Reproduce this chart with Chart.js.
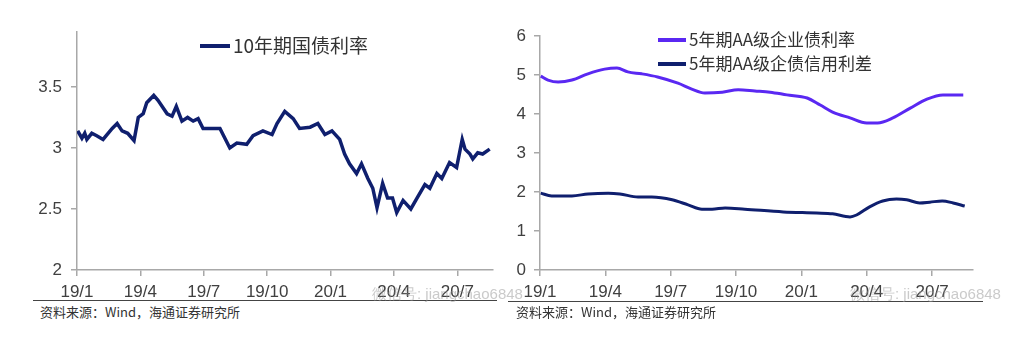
<!DOCTYPE html>
<html>
<head>
<meta charset="utf-8">
<script src="https://cdn.jsdelivr.net/npm/chart.js@4.4.1/dist/chart.umd.min.js"></script>
<style>
  body { margin: 0; background: #fff; }
  #wrap { position: relative; width: 1012px; height: 337px; overflow: hidden; font-family: 'Noto Sans CJK SC', sans-serif; }
  canvas { position: absolute; top: 0; }
  .rule { position: absolute; height: 1px; background: #444; }
  .src { position: absolute; top: 302px; font-size: 13px; color: #333; }
  .wm { position: absolute; top: 285px; font-size: 15px; color: rgba(150,150,150,0.5); font-family: 'Liberation Sans', sans-serif; }
</style>
</head>
<body>
<div id="wrap">
  <canvas id="left" width="500" height="300" style="left:0"></canvas>
  <canvas id="right" width="512" height="300" style="left:500px"></canvas>
  <div class="rule" style="left:33px;top:300px;width:464px"></div>
  <div class="rule" style="left:508px;top:301px;width:475px"></div>
  <div class="src" style="left:40px">资料来源：Wind，海通证券研究所</div>
  <div class="src" style="left:516px">资料来源：Wind，海通证券研究所</div>
  <div class="wm" style="left:372px">微信号: jiangchao6848</div>
  <div class="wm" style="left:850px">微信号: jiangchao6848</div>
</div>
<script>
// 10年期国债利率（%）
const bondDates = ['2019-01-02','2019-01-08','2019-01-12','2019-01-15','2019-01-22','2019-01-29','2019-02-08','2019-02-21',
  '2019-02-28','2019-03-05','2019-03-13','2019-03-22','2019-03-28','2019-04-05','2019-04-10','2019-04-20','2019-04-26',
  '2019-05-09','2019-05-16','2019-05-22','2019-05-30','2019-06-08','2019-06-16','2019-06-23','2019-06-30','2019-07-13',
  '2019-07-24','2019-08-01','2019-08-08','2019-08-18','2019-09-02','2019-09-11','2019-09-25','2019-10-08','2019-10-15',
  '2019-10-26','2019-11-08','2019-11-17','2019-12-02','2019-12-13','2019-12-23','2020-01-03','2020-01-14','2020-01-21',
  '2020-01-28','2020-02-08','2020-02-15','2020-02-24','2020-03-01','2020-03-07','2020-03-15','2020-03-22','2020-03-29',
  '2020-04-05','2020-04-14','2020-04-25','2020-05-04','2020-05-15','2020-05-22','2020-06-02','2020-06-09','2020-06-20',
  '2020-06-30','2020-07-08','2020-07-12','2020-07-19','2020-07-23','2020-07-30','2020-08-07','2020-08-17'];
const bondYield = [3.14,3.08,3.12,3.07,3.12,3.10,3.07,3.16,
  3.20,3.14,3.12,3.06,3.25,3.28,3.37,3.43,3.39,
  3.28,3.26,3.34,3.22,3.25,3.22,3.24,3.16,3.16,
  3.16,3.08,3.00,3.04,3.03,3.10,3.14,3.11,3.20,
  3.30,3.24,3.16,3.17,3.20,3.11,3.14,3.07,2.95,
  2.87,2.79,2.87,2.75,2.67,2.51,2.71,2.59,2.59,
  2.47,2.57,2.50,2.59,2.70,2.67,2.79,2.75,2.88,
  2.84,3.07,2.99,2.95,2.91,2.96,2.95,2.99];

// 5年期AA级企业债利率（%）
const aaDates = ['2019-01-02','2019-01-12','2019-01-26','2019-02-15','2019-03-07','2019-03-30','2019-04-17','2019-05-02',
  '2019-05-21','2019-06-13','2019-07-11','2019-07-30','2019-08-18','2019-09-12','2019-10-04','2019-10-27','2019-11-18',
  '2019-12-11','2020-01-09','2020-01-27','2020-02-14','2020-03-08','2020-04-01','2020-04-16','2020-05-07','2020-05-31',
  '2020-06-24','2020-07-16','2020-08-14'];
const aaYield = [4.97,4.87,4.82,4.87,5.03,5.15,5.18,5.08,
  5.03,4.95,4.79,4.64,4.54,4.56,4.62,4.59,4.56,
  4.49,4.41,4.23,4.05,3.90,3.77,3.77,3.90,4.15,
  4.38,4.49,4.49];

// 5年期AA级企债信用利差（%）
const spreadDates = ['2019-01-02','2019-01-17','2019-02-15','2019-03-07','2019-04-05','2019-04-21','2019-05-16','2019-06-05',
  '2019-07-03','2019-07-25','2019-08-14','2019-08-28','2019-09-16','2019-10-13','2019-12-06','2020-01-22','2020-02-14',
  '2020-03-08','2020-03-17','2020-04-05','2020-04-23','2020-05-12','2020-05-26','2020-06-14','2020-06-28','2020-07-15',
  '2020-07-30','2020-08-16'];
const aaSpread = [1.97,1.90,1.90,1.95,1.97,1.95,1.87,1.87,
  1.80,1.67,1.56,1.56,1.59,1.56,1.49,1.46,1.44,
  1.36,1.41,1.62,1.77,1.82,1.80,1.72,1.74,1.77,
  1.72,1.64];

const quarterLabels = ['19/1','19/4','19/7','19/10','20/1','20/4','20/7'];

const navy = '#0f1f6e';
const violet = '#5a28f2';
const axisGrey = '#a8a8a8';

Chart.defaults.font.family = "'Liberation Sans Narrow', 'Arial Narrow', 'Liberation Sans', Arial, sans-serif";
Chart.defaults.color = '#404040';

// 月份偏移（以2019年1月为0）
function monthsFrom2019(d) {
  const [y, m, day] = d.split('-').map(Number);
  return (y - 2019) * 12 + (m - 1) + (day - 1) / 30;
}
const toPoints = (dates, vals) => dates.map((d, i) => ({ x: monthsFrom2019(d), y: vals[i] }));

// 图例画在绘图区内
const innerLegend = {
  id: 'innerLegend',
  afterDraw(chart, args, opts) {
    const ctx = chart.ctx;
    ctx.save();
    ctx.font = opts.font;
    ctx.textBaseline = 'middle';
    chart.data.datasets.forEach((ds, i) => {
      const y = opts.y + i * opts.gap;
      ctx.strokeStyle = ds.borderColor;
      ctx.lineWidth = 4;
      ctx.beginPath();
      ctx.moveTo(opts.x, y);
      ctx.lineTo(opts.x + opts.len, y);
      ctx.stroke();
      ctx.fillStyle = '#333';
      ctx.fillText(ds.label, opts.x + opts.len + 3, y);
    });
    ctx.restore();
  }
};

function xScale(max) {
  return {
    type: 'linear', min: 0, max: max,
    afterBuildTicks: s => { s.ticks = quarterLabels.map((_, i) => ({ value: i * 3 })); },
    afterFit: s => { s.height = 30; },
    border: { color: axisGrey, width: 1.5 },
    grid: { drawOnChartArea: false, color: axisGrey, lineWidth: 1.5, tickLength: 6 },
    ticks: { padding: 6, maxRotation: 0, autoSkip: false, font: { size: 17 },
      callback: v => quarterLabels[Math.round(v / 3)] }
  };
}

function yScale(min, max, step, width, pad) {
  return {
    min: min, max: max,
    afterBuildTicks: s => { s.ticks = s.ticks.filter(t => Math.abs(t.value / step - Math.round(t.value / step)) < 1e-6); },
    afterFit: s => { s.width = width; },
    border: { color: axisGrey, width: 1.5 },
    grid: { drawOnChartArea: false, color: axisGrey, lineWidth: 1.5, tickLength: 6 },
    ticks: { stepSize: step, padding: pad, font: { size: 17 }, callback: v => String(+v.toFixed(2)) }
  };
}

new Chart(document.getElementById('left'), {
  type: 'line',
  data: {
    datasets: [{
      label: '10年期国债利率',
      data: toPoints(bondDates, bondYield),
      borderColor: navy, borderWidth: 3.5, pointRadius: 0, tension: 0
    }]
  },
  options: {
    responsive: false, animation: false,
    layout: { padding: { top: 32, right: 7, left: 0, bottom: 0 } },
    scales: { x: xScale(19.69), y: yScale(2, 3.95, 0.5, 77, 9) },
    plugins: {
      legend: { display: false }, tooltip: { enabled: false },
      innerLegend: { x: 200, y: 46, gap: 0, len: 30, font: "19px 'Noto Sans CJK SC'" }
    }
  },
  plugins: [innerLegend]
});

new Chart(document.getElementById('right'), {
  type: 'line',
  data: {
    datasets: [{
      label: '5年期AA级企业债利率',
      data: toPoints(aaDates, aaYield),
      borderColor: violet, borderWidth: 3, pointRadius: 0, tension: 0.4, cubicInterpolationMode: 'monotone'
    }, {
      label: '5年期AA级企债信用利差',
      data: toPoints(spreadDates, aaSpread),
      borderColor: navy, borderWidth: 3, pointRadius: 0, tension: 0.4, cubicInterpolationMode: 'monotone'
    }]
  },
  options: {
    responsive: false, animation: false,
    layout: { padding: { top: 36, right: 39, left: 0, bottom: 0 } },
    scales: { x: xScale(19.88), y: yScale(0, 6, 1, 40, 8) },
    plugins: {
      legend: { display: false }, tooltip: { enabled: false },
      innerLegend: { x: 158, y: 40, gap: 24, len: 28, font: "17px 'Noto Sans CJK SC'" }
    }
  },
  plugins: [innerLegend]
});
</script>
</body>
</html>
